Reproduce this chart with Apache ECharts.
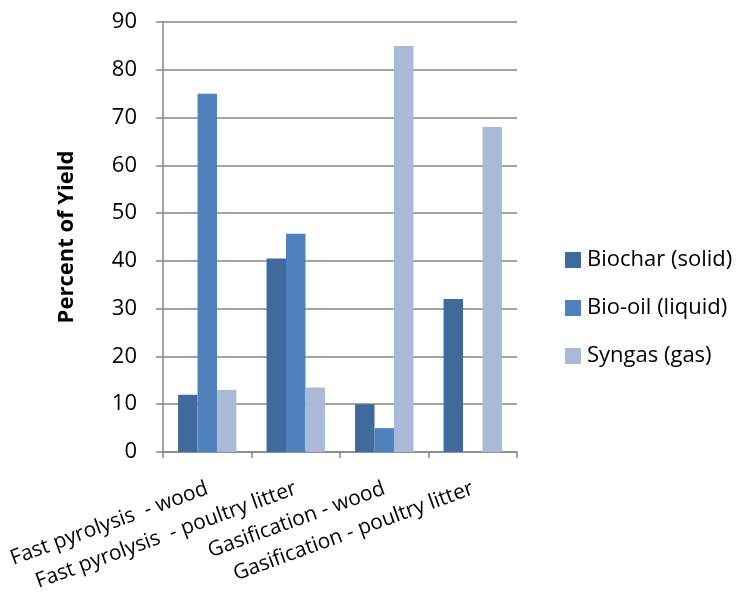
<!DOCTYPE html>
<html>
<head>
<meta charset="utf-8">
<script src="https://cdn.jsdelivr.net/npm/echarts@6/dist/echarts.min.js"></script>
<style>html,body{margin:0;padding:0;background:#fff}#c{width:741px;height:607px}</style>
</head>
<body>
<div id="c"></div>
<script>
const categories = ["Fast pyrolysis  - wood", "Fast pyrolysis  - poultry litter", "Gasification - wood", "Gasification - poultry litter"];
const seriesNames = ["Biochar (solid)", "Bio-oil (liquid)", "Syngas (gas)"];
const biochar = [12, 40.5, 10, 32];
const bioOil = [75, 45.7, 5, null];
const syngas = [13, 13.5, 85, 68];
const colors = ["#416A9C", "#4F81BD", "#AAB9D7"];
const FONT = "'Open Sans', 'Liberation Sans', sans-serif";

const chart = echarts.init(document.getElementById('c'), null, {renderer: 'canvas'});
const data = [biochar, bioOil, syngas];
chart.setOption({
  animation: false,
  textStyle: {fontFamily: FONT},
  grid: {left: 163, right: 224, top: 22, bottom: 155, containLabel: false},
  legend: {
    orient: 'vertical', left: 565, top: 248, padding: 0, itemWidth: 16, itemHeight: 16, itemGap: 24,
    icon: 'rect',
    textStyle: {fontSize: 22, lineHeight: 24, color: '#000', fontFamily: FONT, padding: [0,0,0,1]},
    data: seriesNames
  },
  xAxis: {
    type: 'category', data: categories,
    axisLine: {lineStyle: {color: '#868686', width: 1.5}},
    axisTick: {show: true, alignWithLabel: false, length: 6, lineStyle: {color: '#868686', width: 1.5}},
    axisLabel: {rotate: 20, fontSize: 21, color: '#000', margin: 36, interval: 0, fontFamily: FONT}
  },
  yAxis: {
    type: 'value', min: 0, max: 90, interval: 10,
    name: 'Percent of Yield', nameLocation: 'middle', nameGap: 85,
    nameTextStyle: {fontSize: 22, fontWeight: 'bold', color: '#000', fontFamily: FONT},
    axisLine: {show: true, lineStyle: {color: '#868686', width: 1.5}},
    axisTick: {show: true, length: 7, lineStyle: {color: '#868686', width: 1.5}},
    axisLabel: {fontSize: 22, color: '#000', margin: 26, fontFamily: FONT},
    splitLine: {lineStyle: {color: '#868686', width: 1.5}}
  },
  series: seriesNames.map((n, i) => ({
    name: n, type: 'bar', data: data[i],
    barGap: '0%', barCategoryGap: '34%',
    itemStyle: {color: colors[i]}
  }))
});
</script>
</body>
</html>
